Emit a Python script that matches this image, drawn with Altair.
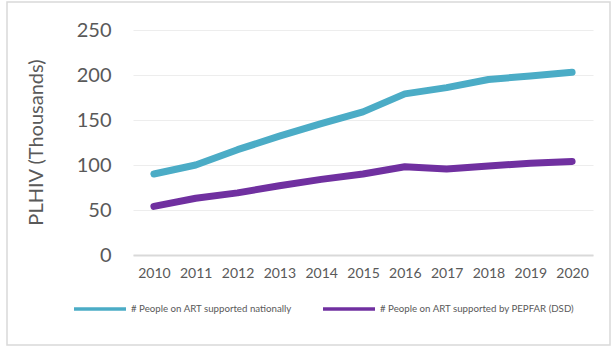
import altair as alt
import pandas as pd

years = ["2010", "2011", "2012", "2013", "2014", "2015", "2016", "2017", "2018", "2019", "2020"]
national = [90, 100, 117, 132, 146, 159, 179, 186, 195, 199, 203]
pepfar = [54, 63, 69, 77, 84, 90, 98, 95.5, 99, 102, 104]
series_names = ["# People on ART supported nationally", "# People on ART supported by PEPFAR (DSD)"]
series_colors = ["#4BACC6", "#7030A0"]

rows = []
for y, v in zip(years, national):
    rows.append({"year": y, "value": v, "series": series_names[0]})
for y, v in zip(years, pepfar):
    rows.append({"year": y, "value": v, "series": series_names[1]})
df = pd.DataFrame(rows)

font = "Lato"
gray = "#595959"

frame = alt.Chart(pd.DataFrame({"a": [0]})).mark_rect(
    fillOpacity=0, stroke="#D9D9D9", strokeWidth=1.5
).encode(
    x=alt.value(-126), x2=alt.value(477), y=alt.value(-28), y2=alt.value(315)
)

lines = alt.Chart(df).mark_line(strokeWidth=7, strokeCap="round", strokeJoin="round").encode(
    x=alt.X("year:O", sort=years, scale=alt.Scale(padding=0.5),
            axis=alt.Axis(title=None, labelAngle=0, labelFont=font, labelFontSize=14,
                          labelColor=gray, labelPadding=11, ticks=False,
                          domainColor="#D9D9D9", domainWidth=2, grid=False)),
    y=alt.Y("value:Q", scale=alt.Scale(domain=[0, 250]),
            axis=alt.Axis(values=[0, 50, 100, 150, 200, 250], title="PLHIV (Thousands)",
                          labelFont=font, labelFontSize=20, labelColor=gray, labelPadding=22,
                          ticks=False, domain=False, gridColor="#EDEDED", gridWidth=1,
                          titleFont=font, titleFontSize=20, titleFontWeight="normal",
                          titleColor=gray, titleAngle=270, titleX=-97, titleY=112,
                          titleAlign="center", titleBaseline="middle")),
    color=alt.Color("series:N", sort=series_names,
                    scale=alt.Scale(domain=series_names, range=series_colors),
                    legend=alt.Legend(title=None, orient="none", legendX=-61, legendY=251,
                                      direction="horizontal", symbolType="stroke",
                                      symbolSize=2704, symbolStrokeWidth=3.5,
                                      labelFont=font, labelFontSize=9.7, labelColor=gray,
                                      labelLimit=0, labelOffset=3, columnPadding=24)),
    detail="series:N"
)

chart = alt.layer(frame, lines).properties(
    width=460, height=225,
    autosize=alt.AutoSizeParams(type="none"),
    padding={"left": 133, "top": 30, "right": 23, "bottom": 92},
    background="white"
).configure_view(stroke=None)

chart.save("out.html", embed_options={"renderer": "svg", "actions": False})
